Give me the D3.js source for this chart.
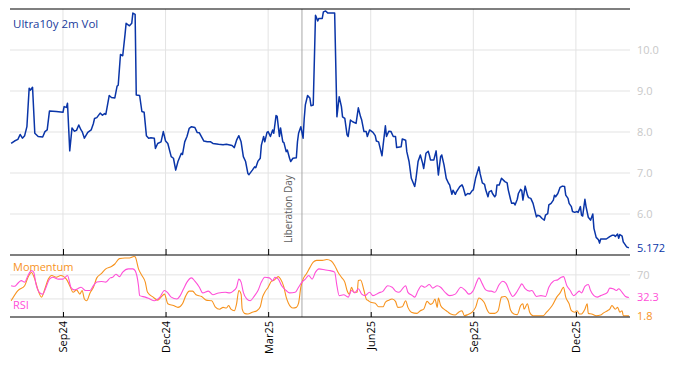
<!DOCTYPE html>
<html>
<head>
<meta charset="utf-8">
<script src="https://cdn.jsdelivr.net/npm/d3@7"></script>
<style>
  body { margin: 0; background: #fff; }
  svg { display: block; font-family: "Open Sans", "Noto Sans", sans-serif; }
</style>
</head>
<body>
<div id="chart"></div>
<script>
// Ultra10y 2m implied vol (top panel)
const volDates = [
  "2024-07-18","2024-07-21","2024-07-24","2024-07-26","2024-07-28","2024-07-30","2024-08-01","2024-08-03","2024-08-04","2024-08-06",
  "2024-08-08","2024-08-11","2024-08-15","2024-08-17","2024-08-19","2024-08-21","2024-08-27","2024-09-02","2024-09-03","2024-09-05",
  "2024-09-06","2024-09-08","2024-09-10","2024-09-12","2024-09-14","2024-09-16","2024-09-18","2024-09-19","2024-09-21","2024-09-24",
  "2024-09-27","2024-09-29","2024-09-30","2024-10-02","2024-10-05","2024-10-07","2024-10-09","2024-10-10","2024-10-13","2024-10-15",
  "2024-10-18","2024-10-20","2024-10-21","2024-10-23","2024-10-25","2024-10-27","2024-10-28","2024-10-31","2024-11-02","2024-11-03",
  "2024-11-05","2024-11-06","2024-11-09","2024-11-11","2024-11-13","2024-11-15","2024-11-17","2024-11-19","2024-11-22","2024-11-23",
  "2024-11-25","2024-11-28","2024-11-30","2024-12-02","2024-12-04","2024-12-07","2024-12-09","2024-12-11","2024-12-13","2024-12-16",
  "2024-12-17","2024-12-19","2024-12-21","2024-12-23","2024-12-25","2024-12-28","2024-12-30","2025-01-01","2025-01-05","2025-01-08",
  "2025-01-11","2025-01-13","2025-01-18","2025-01-22","2025-01-25","2025-01-30","2025-02-01","2025-02-03","2025-02-05","2025-02-07",
  "2025-02-09","2025-02-11","2025-02-13","2025-02-14","2025-02-17","2025-02-19","2025-02-20","2025-02-22","2025-02-24","2025-02-25",
  "2025-02-27","2025-02-28","2025-03-02","2025-03-03","2025-03-05","2025-03-07","2025-03-08","2025-03-10","2025-03-11","2025-03-13",
  "2025-03-14","2025-03-16","2025-03-17","2025-03-19","2025-03-20","2025-03-22","2025-03-23","2025-03-25","2025-03-28","2025-03-29",
  "2025-03-30","2025-04-01","2025-04-03","2025-04-04","2025-04-05","2025-04-07","2025-04-09","2025-04-10","2025-04-12","2025-04-14",
  "2025-04-16","2025-04-17","2025-04-20","2025-04-21","2025-04-23","2025-04-25","2025-05-01","2025-05-03","2025-05-05","2025-05-07",
  "2025-05-08","2025-05-10","2025-05-12","2025-05-13","2025-05-15","2025-05-17","2025-05-20","2025-05-22","2025-05-24","2025-05-25",
  "2025-05-27","2025-05-29","2025-05-30","2025-06-01","2025-06-04","2025-06-06","2025-06-07","2025-06-09","2025-06-12","2025-06-13",
  "2025-06-15","2025-06-16","2025-06-18","2025-06-20","2025-06-22","2025-06-24","2025-06-25","2025-06-29","2025-06-30","2025-07-03",
  "2025-07-04","2025-07-06","2025-07-08","2025-07-11","2025-07-12","2025-07-14","2025-07-16","2025-07-18","2025-07-19","2025-07-21",
  "2025-07-23","2025-07-24","2025-07-25","2025-07-28","2025-07-30","2025-08-01","2025-08-03","2025-08-04","2025-08-06","2025-08-08",
  "2025-08-10","2025-08-11","2025-08-13","2025-08-14","2025-08-16","2025-08-17","2025-08-20","2025-08-22","2025-08-23","2025-08-25",
  "2025-08-27","2025-08-29","2025-08-31","2025-09-01","2025-09-03","2025-09-06","2025-09-07","2025-09-09","2025-09-11","2025-09-12",
  "2025-09-14","2025-09-15","2025-09-17","2025-09-18","2025-09-20","2025-09-21","2025-09-22","2025-09-24","2025-09-26","2025-09-29",
  "2025-10-01","2025-10-02","2025-10-04","2025-10-05","2025-10-07","2025-10-08","2025-10-10","2025-10-11","2025-10-13","2025-10-14",
  "2025-10-15","2025-10-17","2025-10-19","2025-10-20","2025-10-22","2025-10-24","2025-10-27","2025-10-28","2025-10-30","2025-11-01",
  "2025-11-03","2025-11-04","2025-11-06","2025-11-07","2025-11-09","2025-11-11","2025-11-12","2025-11-13","2025-11-15","2025-11-17",
  "2025-11-19","2025-11-21","2025-11-22","2025-11-24","2025-11-25","2025-11-27","2025-11-28","2025-11-30","2025-12-02","2025-12-03",
  "2025-12-05","2025-12-06","2025-12-07","2025-12-09","2025-12-10","2025-12-12","2025-12-14","2025-12-16","2025-12-17","2025-12-19",
  "2025-12-21","2025-12-22","2025-12-23","2025-12-28","2025-12-31","2026-01-02","2026-01-04","2026-01-05","2026-01-07","2026-01-08",
  "2026-01-09","2026-01-11","2026-01-12","2026-01-14","2026-01-15","2026-01-17"
];
const volValues = [
  7.72,7.78,7.82,7.94,7.85,7.91,8.13,9.07,9.02,9.09,
  7.97,7.89,7.88,8.01,8.05,8.51,8.50,8.48,8.62,8.60,
  8.70,7.54,8.10,8.02,8.04,8.17,8.05,8.01,7.85,7.99,
  8.05,8.21,8.33,8.35,8.46,8.41,8.45,8.43,8.89,8.84,
  8.83,9.12,9.14,9.89,9.86,10.37,10.65,10.59,10.65,10.90,
  10.87,8.90,8.89,8.50,8.48,7.91,7.85,7.86,7.85,7.60,
  7.72,7.76,8.01,7.78,7.72,7.40,7.36,7.07,7.28,7.48,
  7.45,7.76,7.89,8.09,8.13,8.11,7.99,7.98,7.78,7.76,
  7.76,7.72,7.70,7.69,7.70,7.67,7.62,7.80,7.91,7.76,
  7.40,7.28,6.99,6.96,7.07,7.15,7.13,7.29,7.36,7.68,
  7.89,7.76,7.99,8.01,7.89,8.05,7.97,8.40,8.38,7.89,
  8.10,7.76,7.74,7.52,7.56,7.36,7.28,7.36,7.37,7.76,
  7.97,8.13,7.85,8.33,8.66,8.89,8.83,8.64,8.66,10.85,
  10.71,10.77,10.77,10.93,10.95,10.90,10.90,8.37,8.86,8.62,
  8.37,8.33,7.93,7.89,8.29,8.25,8.21,8.59,8.37,8.29,
  8.01,8.01,7.89,8.05,7.99,7.91,7.78,7.76,7.42,7.68,
  8.15,7.89,8.02,8.01,7.89,7.89,7.62,7.64,7.83,7.80,
  7.52,7.28,6.87,6.67,6.83,7.28,7.44,7.24,7.11,7.48,
  7.53,7.44,7.32,7.32,7.54,6.95,7.40,7.44,7.20,6.87,
  6.75,6.71,6.48,6.58,6.48,6.54,6.67,6.71,6.65,6.45,
  6.50,6.49,6.57,6.59,6.87,7.15,6.99,6.76,6.72,6.59,
  6.42,6.54,6.57,6.50,6.42,6.46,6.71,6.71,6.87,6.79,
  6.76,6.59,6.36,6.26,6.27,6.22,6.36,6.50,6.60,6.57,
  6.34,6.68,6.46,6.40,6.38,6.26,5.93,5.97,5.95,5.89,
  5.85,5.97,6.01,6.22,6.26,6.34,6.46,6.42,6.50,6.65,
  6.68,6.67,6.46,6.38,6.26,6.18,6.06,6.04,6.06,6.04,
  6.18,5.97,5.95,6.36,6.18,5.92,5.85,6.00,5.65,5.43,
  5.37,5.29,5.39,5.39,5.45,5.48,5.48,5.45,5.51,5.41,
  5.50,5.46,5.32,5.24,5.20,5.172
];

// Momentum (bottom panel, orange)
const momDates = [
  "2024-07-18","2024-07-24","2024-07-30","2024-08-02","2024-08-05","2024-08-08","2024-08-11","2024-08-14","2024-08-17","2024-08-20",
  "2024-08-23","2024-08-27","2024-08-31","2024-09-05","2024-09-08","2024-09-11","2024-09-14","2024-09-17","2024-09-19","2024-09-21",
  "2024-09-23","2024-09-26","2024-09-29","2024-10-02","2024-10-06","2024-10-10","2024-10-15","2024-10-18","2024-10-22","2024-10-27",
  "2024-10-31","2024-11-04","2024-11-05","2024-11-08","2024-11-11","2024-11-14","2024-11-16","2024-11-21","2024-11-25","2024-11-28",
  "2024-12-01","2024-12-04","2024-12-09","2024-12-13","2024-12-17","2024-12-20","2024-12-23","2024-12-26","2024-12-29","2025-01-03",
  "2025-01-07","2025-01-12","2025-01-15","2025-01-19","2025-01-22","2025-01-25","2025-01-27","2025-01-29","2025-02-01","2025-02-03",
  "2025-02-05","2025-02-07","2025-02-08","2025-02-10","2025-02-13","2025-02-17","2025-02-21","2025-02-24","2025-02-26","2025-02-28",
  "2025-03-03","2025-03-06","2025-03-08","2025-03-11","2025-03-12","2025-03-14","2025-03-17","2025-03-19","2025-03-21","2025-03-25",
  "2025-03-28","2025-03-30","2025-04-01","2025-04-03","2025-04-06","2025-04-09","2025-04-12","2025-04-15","2025-04-20","2025-04-24",
  "2025-04-28","2025-05-01","2025-05-04","2025-05-07","2025-05-10","2025-05-12","2025-05-14","2025-05-16","2025-05-18","2025-05-21",
  "2025-05-22","2025-05-24","2025-05-27","2025-05-29","2025-05-31","2025-06-02","2025-06-06","2025-06-09","2025-06-13","2025-06-15",
  "2025-06-18","2025-06-21","2025-06-24","2025-06-26","2025-06-30","2025-07-03","2025-07-05","2025-07-08","2025-07-13","2025-07-16",
  "2025-07-19","2025-07-22","2025-07-25","2025-07-27","2025-07-29","2025-07-31","2025-08-01","2025-08-03","2025-08-06","2025-08-09",
  "2025-08-12","2025-08-16","2025-08-19","2025-08-22","2025-08-24","2025-08-27","2025-08-31","2025-09-03","2025-09-06","2025-09-09",
  "2025-09-11","2025-09-13","2025-09-16","2025-09-20","2025-09-23","2025-09-26","2025-09-29","2025-10-02","2025-10-04","2025-10-07",
  "2025-10-10","2025-10-13","2025-10-15","2025-10-16","2025-10-19","2025-10-21","2025-10-24","2025-11-02","2025-11-05","2025-11-10",
  "2025-11-14","2025-11-17","2025-11-20","2025-11-22","2025-11-25","2025-11-27","2025-11-30","2025-12-02","2025-12-04","2025-12-06",
  "2025-12-09","2025-12-11","2025-12-12","2025-12-15","2025-12-19","2025-12-23","2025-12-25","2025-12-29","2025-12-31","2026-01-02",
  "2026-01-05","2026-01-07","2026-01-09","2026-01-11","2026-01-12","2026-01-15","2026-01-17"
];
const momValues = [
  27,44,52,66,74,63,44,33,47,63,
  69,66,69,63,52,41,45,38,44,30,
  27,40,49.5,65,72,80,84,88,97,98,
  98,100.5,100,80,69,58,41,33,28,33,
  38,22,19,16,22,35.5,43,43,37,34,
  28,27,17,13,16,15,19,13,10.5,22,
  44,38,13,6,5,8,10.5,17,33,41,
  49.5,59.5,61,66,67,63,49.5,33,23,15,
  16,23,49.5,63,72,82,91,94,94,95.5,
  93,85.5,74.5,66,58,44,38,49.5,41,41,
  60.5,61.5,44,30,27,24.5,23,17,17,24.5,
  28,30,26,16,17,27,16,8,6,10.5,
  13,26,21,23,30,16,31.5,19,13,9,
  5,3.3,8,10.5,2.2,3.9,8,16,31.5,28,
  23,13,6,6,10.5,33,34,27,11.7,5,
  3.9,19,22,13,22,8,2.2,2.2,8,19,
  33,40,49.5,33,22,10.5,8,10.5,5,5,
  13,22,6,5,2.2,3.3,6,10.5,13,19,
  13,16,8,10.5,2.2,2.2,1.8
];

// RSI (bottom panel, pink)
const rsiDates = [
  "2024-07-18","2024-07-21","2024-07-24","2024-07-27","2024-07-30","2024-08-02","2024-08-05","2024-08-07","2024-08-09","2024-08-12",
  "2024-08-15","2024-08-18","2024-08-21","2024-08-24","2024-08-29","2024-09-02","2024-09-06","2024-09-09","2024-09-12","2024-09-15",
  "2024-09-18","2024-09-22","2024-09-26","2024-09-29","2024-10-02","2024-10-06","2024-10-10","2024-10-14","2024-10-16","2024-10-19",
  "2024-10-22","2024-10-25","2024-10-30","2024-11-03","2024-11-05","2024-11-08","2024-11-09","2024-11-14","2024-11-18","2024-11-22",
  "2024-11-27","2024-12-01","2024-12-04","2024-12-07","2024-12-12","2024-12-15","2024-12-18","2024-12-21","2024-12-25","2024-12-28",
  "2025-01-01","2025-01-04","2025-01-09","2025-01-13","2025-01-18","2025-01-24","2025-01-28","2025-01-31","2025-02-03","2025-02-05",
  "2025-02-07","2025-02-09","2025-02-12","2025-02-15","2025-02-19","2025-02-22","2025-02-25","2025-02-28","2025-03-04","2025-03-07",
  "2025-03-09","2025-03-12","2025-03-15","2025-03-19","2025-03-22","2025-03-27","2025-03-30","2025-04-02","2025-04-05","2025-04-08",
  "2025-04-11","2025-04-14","2025-04-17","2025-04-23","2025-04-27","2025-05-01","2025-05-03","2025-05-05","2025-05-09","2025-05-13",
  "2025-05-16","2025-05-19","2025-05-22","2025-05-25","2025-05-28","2025-06-01","2025-06-04","2025-06-09","2025-06-13","2025-06-17",
  "2025-06-21","2025-06-24","2025-06-27","2025-07-03","2025-07-05","2025-07-09","2025-07-11","2025-07-14","2025-07-17","2025-07-20",
  "2025-07-24","2025-07-27","2025-07-31","2025-08-03","2025-08-07","2025-08-11","2025-08-16","2025-08-21","2025-08-25","2025-08-28",
  "2025-09-01","2025-09-04","2025-09-06","2025-09-09","2025-09-12","2025-09-15","2025-09-17","2025-09-20","2025-09-24","2025-09-27",
  "2025-09-30","2025-10-03","2025-10-06","2025-10-09","2025-10-12","2025-10-14","2025-10-17","2025-10-21","2025-10-23","2025-10-27",
  "2025-10-31","2025-11-04","2025-11-07","2025-11-11","2025-11-15","2025-11-18","2025-11-20","2025-11-23","2025-11-26","2025-11-29",
  "2025-12-02","2025-12-04","2025-12-06","2025-12-09","2025-12-12","2025-12-14","2025-12-17","2025-12-20","2025-12-23","2025-12-25",
  "2025-12-29","2025-12-31","2026-01-03","2026-01-06","2026-01-08","2026-01-11","2026-01-14","2026-01-17"
];
const rsiValues = [
  52,51,56,60.5,58,69,77,74.5,55,41,
  38,49.5,63,66,63,63,69,49.5,45,47,
  49.5,44,44,52,58,59,58,65,66,71,
  67,74.5,80,80,77,52,35.5,33,30,27,
  33,44,40,33,30,35.5,47,58,65,59.5,
  49.5,40,43,37,40,41,40,43,49.5,63,
  58,41,30,27,35.5,44,58,66,65,60.5,
  66,63,52,44,40,41,49.5,58,63,69,
  63,74.5,80,78,77,74.5,52,35.5,37,33,
  44,40,47,38,35.5,41,35.5,40,43,52,
  49.5,43,41,52,41,35.5,33,44,52,49.5,
  54,48,52,49.5,41,35.5,38,49.5,44,38,
  44,58,65,55,45,43,43,41,54,59.5,
  56,43,34,40,49.5,55,47,43,44,34,
  35.5,34,49.5,59.5,62,66,67,52,44,35.5,
  40,43,40,51,54,44,35.5,33,35.5,37,
  41,48,47,44,47,41,34,32.3
];

// axis settings
const xStart = "2024-07-17", xEnd = "2026-01-18";
// first trading day of each labelled month
const tickDates = ["2024-09-02","2024-12-02","2025-03-03","2025-06-02","2025-09-01","2025-12-01"];
const volTicks = [6, 7, 8, 9, 10];
const oscGrid = [30, 70];
const oscLabels = [70];
const libDay = "2025-04-02";

const width = 674, height = 366;
const left = 10, right = 630;
const topY = 9, midY = 255, botY = 317;

const parseDate = d3.timeParse("%Y-%m-%d");

const vol = volDates.map((d, i) => ({ date: parseDate(d), value: volValues[i] }));
const mom = momDates.map((d, i) => ({ date: parseDate(d), value: momValues[i] }));
const rsi = rsiDates.map((d, i) => ({ date: parseDate(d), value: rsiValues[i] }));
const ticks = tickDates.map(parseDate);

const x = d3.scaleTime()
    .domain([parseDate(xStart), parseDate(xEnd)])
    .range([left, right]);
const yVol = d3.scaleLinear().domain([5, 11]).range([midY, topY]);
const yOsc = d3.scaleLinear().domain([0, 103]).range([botY, midY]);

const svg = d3.select("#chart").append("svg")
    .attr("width", width)
    .attr("height", height);

const grid = "#e3e3e3";

// horizontal gridlines
svg.append("g").selectAll("line")
    .data(volTicks)
    .join("line")
    .attr("x1", left).attr("x2", right)
    .attr("y1", d => yVol(d)).attr("y2", d => yVol(d))
    .attr("stroke", grid);

svg.append("g").selectAll("line")
    .data(oscGrid)
    .join("line")
    .attr("x1", left).attr("x2", right)
    .attr("y1", d => yOsc(d)).attr("y2", d => yOsc(d))
    .attr("stroke", grid);

// vertical gridlines
svg.append("g").selectAll("line")
    .data(ticks)
    .join("line")
    .attr("x1", d => x(d)).attr("x2", d => x(d))
    .attr("y1", topY).attr("y2", botY)
    .attr("stroke", grid);

// Liberation Day marker
const xl = x(parseDate(libDay));
svg.append("line")
    .attr("x1", xl).attr("x2", xl)
    .attr("y1", topY).attr("y2", botY)
    .attr("stroke", "#a8a8a8");
svg.append("text")
    .attr("transform", `translate(${xl - 13},${midY - 12}) rotate(-90)`)
    .attr("dy", "0.35em")
    .attr("font-size", 10)
    .attr("fill", "#606060")
    .text("Liberation Day");

// lines
svg.append("path")
    .datum(vol)
    .attr("fill", "none")
    .attr("stroke", "#0a35a8")
    .attr("stroke-width", 1.5)
    .attr("stroke-linejoin", "round")
    .attr("d", d3.line().x(d => x(d.date)).y(d => yVol(d.value)));

const oscLine = d3.line()
    .curve(d3.curveMonotoneX)
    .x(d => x(d.date))
    .y(d => yOsc(d.value));

svg.append("path")
    .datum(mom)
    .attr("fill", "none")
    .attr("stroke", "#f7931e")
    .attr("stroke-width", 1.1)
    .attr("d", oscLine);

svg.append("path")
    .datum(rsi)
    .attr("fill", "none")
    .attr("stroke", "#ff4fd8")
    .attr("stroke-width", 1.1)
    .attr("d", oscLine);

// panel borders
[topY, midY, botY].forEach(y => {
    svg.append("line")
        .attr("x1", left).attr("x2", right)
        .attr("y1", y).attr("y2", y)
        .attr("stroke", "#000")
        .attr("stroke-width", 1.2);
});

// x ticks (inner) and rotated labels
svg.append("g")
    .attr("transform", `translate(0,${midY})`)
    .call(d3.axisBottom(x).tickValues(ticks).tickSize(-6).tickFormat(""))
    .call(g => g.select(".domain").remove());

svg.append("g")
    .attr("transform", `translate(0,${botY})`)
    .call(d3.axisBottom(x).tickValues(ticks).tickSize(-5).tickFormat(d3.timeFormat("%b%y")))
    .call(g => g.select(".domain").remove())
    .selectAll("text")
    .attr("transform", "rotate(-90)")
    .attr("x", -4)
    .attr("y", 0)
    .attr("dy", "0.35em")
    .attr("font-size", 11)
    .attr("font-family", "\"Open Sans\", sans-serif")
    .attr("fill", "#000")
    .style("text-anchor", "end");

// right axes
svg.append("g")
    .attr("transform", `translate(${right},0)`)
    .call(d3.axisRight(yVol).tickValues(volTicks).tickSize(0).tickPadding(7).tickFormat(d3.format(".1f")))
    .call(g => g.select(".domain").remove())
    .selectAll("text")
    .attr("font-size", 11)
    .attr("font-family", "\"Open Sans\", sans-serif")
    .attr("fill", "#c8c8c8");

svg.append("g")
    .attr("transform", `translate(${right},0)`)
    .call(d3.axisRight(yOsc).tickValues(oscLabels).tickSize(0).tickPadding(7))
    .call(g => g.select(".domain").remove())
    .selectAll("text")
    .attr("font-size", 11)
    .attr("font-family", "\"Open Sans\", sans-serif")
    .attr("fill", "#c8c8c8");

// last value labels
const lastLabels = [
    { y: yVol(volValues[volValues.length - 1]), text: "5.172", color: "#0a35a8" },
    { y: yOsc(rsiValues[rsiValues.length - 1]), text: "32.3", color: "#ff4fd8" },
    { y: yOsc(momValues[momValues.length - 1]), text: "1.8", color: "#f7931e" }
];
svg.append("g").selectAll("text")
    .data(lastLabels)
    .join("text")
    .attr("x", right + 7)
    .attr("y", d => d.y)
    .attr("dy", "0.35em")
    .attr("font-size", 11)
    .attr("fill", d => d.color)
    .text(d => d.text);

// series names
svg.append("text")
    .attr("x", 13).attr("y", 28)
    .attr("font-size", 11.5)
    .attr("fill", "#1a3c9c")
    .text("Ultra10y 2m Vol");
svg.append("text")
    .attr("x", 13).attr("y", 271)
    .attr("font-size", 11)
    .attr("fill", "#f7931e")
    .text("Momentum");
svg.append("text")
    .attr("x", 13).attr("y", 309)
    .attr("font-size", 11)
    .attr("fill", "#ff4fd8")
    .text("RSI");
</script>
</body>
</html>
